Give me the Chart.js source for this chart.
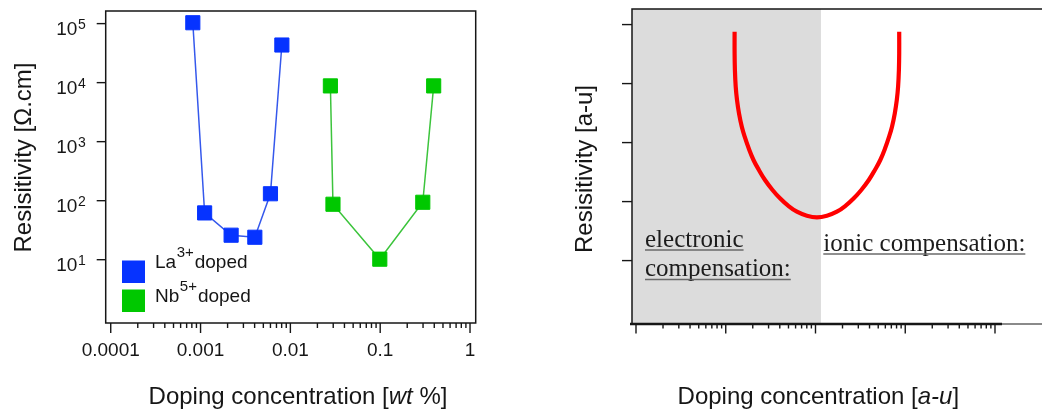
<!DOCTYPE html>
<html><head><meta charset="utf-8">
<script src="https://cdn.jsdelivr.net/npm/chart.js@4"></script>
<style>
html,body{margin:0;padding:0;background:#fff;}
#wrap{position:relative;width:1042px;height:412px;overflow:hidden;background:#fff;}
#left{position:absolute;left:0;top:0;width:520px;height:412px;}
#right{position:absolute;left:520px;top:0;width:522px;height:412px;}
</style></head><body>
<div id="wrap">
<canvas id="left" width="520" height="412"></canvas>
<canvas id="right" width="522" height="412"></canvas>
</div>
<script>
// ---------- data ----------
// Left panel: measured resistivity vs. doping concentration
const laConc = [0.00082, 0.00111, 0.00219, 0.00402, 0.0060, 0.00804];
const laRes  = [103500, 62, 26, 24, 131, 43400];
const nbConc = [0.0279, 0.0298, 0.099, 0.298, 0.394];
const nbRes  = [8800, 87, 10.2, 94, 8800];
const leftXTicks = [0.0001, 0.001, 0.01, 0.1, 1];
const leftYExps  = [1, 2, 3, 4, 5];
const legendNames = [["La", "3+", "doped"], ["Nb", "5+", "doped"]];

// Right panel: schematic U-shaped resistivity curve (arbitrary units)
const curveX = [12.55, 12.55, 12.65, 12.91, 13.35, 14.05, 15.10, 16.26, 18.02, 20.38,
                23.41, 27.37, 33.19, 40.22, 49.52, 62.05, 80.21, 103.65,
                133.97, 173.15, 217.0, 267.2, 323.8, 392.6, 459.0, 527.2, 596.5,
                660.9, 711.9, 764.9, 805.2, 832.5, 849.8, 856.4, 856.4];
const curveY = [4.880, 4.514, 4.231, 3.947, 3.722, 3.497, 3.269, 3.100, 2.903, 2.705,
                2.536, 2.366, 2.197, 2.056, 1.931, 1.829, 1.761, 1.734,
                1.761, 1.829, 1.931, 2.056, 2.197, 2.366, 2.536, 2.705, 2.903,
                3.100, 3.269, 3.497, 3.722, 3.947, 4.231, 4.514, 4.880];
const rightXTicks = [1, 10, 100, 1000, 10000];
const rightYTicks = [1, 2, 3, 4, 5];
const electronicLimit = 115;   // boundary of the shaded "electronic compensation" region
const regionLabels = ["electronic", "compensation:", "ionic compensation:"];

// ---------- styling ----------
const SANS = '"Liberation Sans", Arial, sans-serif';
const SERIF = '"Liberation Serif", "Times New Roman", serif';
const INK = '#161616';
const BLUE = '#0633ff', BLUE_LINE = '#3558ec';
const GREEN = '#00c800', GREEN_LINE = '#3cc43c';

function minorTicks(lo, hi) {
  const out = [];
  for (let d = lo; d < hi; d++) for (let m = 1; m <= 9; m++) out.push({v: m * Math.pow(10, d), major: m === 1});
  out.push({v: Math.pow(10, hi), major: true});
  return out;
}
function drawRuns(ctx, runs, x, baseline, center) {
  let total = 0;
  runs.forEach(r => { ctx.font = r.font; r.w = ctx.measureText(r.text).width; total += r.w + (r.gap || 0); });
  let cx = center ? x - total / 2 : x;
  ctx.textAlign = 'left'; ctx.textBaseline = 'alphabetic';
  runs.forEach(r => { ctx.font = r.font; ctx.fillText(r.text, cx, baseline + (r.dy || 0)); cx += r.w + (r.gap || 0); });
}

// ---------- left chart ----------
const leftDeco = {
  id: 'leftDeco',
  afterDraw(chart) {
    const ctx = chart.ctx, a = chart.chartArea, xs = chart.scales.x, ys = chart.scales.y;
    ctx.save();
    ctx.strokeStyle = INK; ctx.lineWidth = 1.5;
    ctx.strokeRect(a.left, a.top, a.right - a.left, a.bottom - a.top);
    // x ticks
    ctx.lineWidth = 1.4;
    minorTicks(-4, 0).forEach(t => {
      const px = xs.getPixelForValue(t.v);
      ctx.beginPath(); ctx.moveTo(px, a.bottom); ctx.lineTo(px, a.bottom + (t.major ? 10 : 5)); ctx.stroke();
    });
    // y ticks + labels
    ctx.fillStyle = INK;
    leftYExps.forEach(e => {
      const py = ys.getPixelForValue(Math.pow(10, e));
      ctx.beginPath(); ctx.moveTo(a.left - 9, py); ctx.lineTo(a.left, py); ctx.stroke();
      ctx.font = '14px ' + SANS;
      const sw = ctx.measureText(String(e)).width;
      ctx.font = '19px ' + SANS;
      const bw = ctx.measureText('10').width;
      const right = a.left - 20;
      ctx.textAlign = 'left'; ctx.textBaseline = 'alphabetic';
      ctx.fillText('10', right - sw - 0.5 - bw, py + 11);
      ctx.font = '14px ' + SANS;
      ctx.fillText(String(e), right - sw, py + 5.5);
    });
    // axis titles
    drawRuns(ctx, [
      {text: 'Doping concentration [', font: '24px ' + SANS},
      {text: 'wt', font: 'italic 24px ' + SANS},
      {text: ' %]', font: '24px ' + SANS}], 298, 404, true);
    ctx.save();
    ctx.translate(22, 157.5); ctx.rotate(-Math.PI / 2);
    drawRuns(ctx, [{text: 'Resisitivity [Ω.cm]', font: '24px ' + SANS}], 0, 8.5, true);
    ctx.restore();
    // legend
    const rows = [{c: BLUE, y: 260.5, base: 268}, {c: GREEN, y: 289.5, base: 302}];
    rows.forEach((r, i) => {
      ctx.fillStyle = r.c;
      ctx.fillRect(122, r.y, 23, 22.5);
      ctx.fillStyle = INK;
      const n = legendNames[i];
      drawRuns(ctx, [
        {text: n[0], font: '19px ' + SANS, gap: 0.5},
        {text: n[1], font: '15px ' + SANS, dy: -11.5, gap: 1},
        {text: n[2], font: '19px ' + SANS}], 155, r.base, false);
    });
    ctx.restore();
  }
};

new Chart(document.getElementById('left'), {
  type: 'line',
  data: {
    datasets: [
      {label: 'La3+ doped', data: laConc.map((x, i) => ({x, y: laRes[i]})),
       borderColor: BLUE_LINE, borderWidth: 1.5, pointStyle: 'rect', pointRadius: 10, pointBorderWidth: 1,
       pointBackgroundColor: BLUE, pointBorderColor: BLUE, tension: 0},
      {label: 'Nb5+ doped', data: nbConc.map((x, i) => ({x, y: nbRes[i]})),
       borderColor: GREEN_LINE, borderWidth: 1.5, pointStyle: 'rect', pointRadius: 10, pointBorderWidth: 1,
       pointBackgroundColor: GREEN, pointBorderColor: GREEN, tension: 0}
    ]
  },
  options: {
    responsive: false, animation: false, devicePixelRatio: 1,
    layout: {padding: {left: 0, right: 44.3, top: 9, bottom: 0}},
    plugins: {legend: {display: false}, tooltip: {enabled: false}},
    scales: {
      x: {type: 'logarithmic', bounds: 'data', min: 8.79e-5, max: 1.157,
          afterBuildTicks: s => { s.ticks = leftXTicks.map(v => ({value: v})); },
          afterFit: s => { s.height = 89; },
          grid: {display: false, drawTicks: false}, border: {display: false},
          ticks: {font: {family: SANS, size: 19}, color: INK, padding: 16, maxRotation: 0, autoSkip: false,
                  callback: v => String(v)}},
      y: {type: 'logarithmic', bounds: 'data', min: 0.846, max: 163600,
          afterFit: s => { s.width = 105.7; },
          ticks: {display: false}, grid: {display: false}, border: {display: false}}
    }
  },
  plugins: [leftDeco]
});

// ---------- right chart ----------
const rightDeco = {
  id: 'rightDeco',
  beforeDatasetsDraw(chart) {
    const ctx = chart.ctx, a = chart.chartArea, xs = chart.scales.x;
    ctx.save();
    ctx.fillStyle = '#dcdcdc';
    const bx = xs.getPixelForValue(electronicLimit);
    ctx.fillRect(a.left, a.top, bx - a.left, a.bottom - a.top);
    ctx.restore();
  },
  afterDraw(chart) {
    const ctx = chart.ctx, a = chart.chartArea, xs = chart.scales.x, ys = chart.scales.y;
    ctx.save();
    ctx.strokeStyle = INK; ctx.lineWidth = 1.5;
    ctx.beginPath(); ctx.moveTo(a.left, a.bottom); ctx.lineTo(a.left, a.top); ctx.lineTo(a.right, a.top); ctx.stroke();
    // bottom axis
    const lastMajor = xs.getPixelForValue(rightXTicks[rightXTicks.length - 1]);
    ctx.lineWidth = 2.6;
    ctx.beginPath(); ctx.moveTo(a.left - 2, a.bottom); ctx.lineTo(lastMajor + 7, a.bottom); ctx.stroke();
    ctx.lineWidth = 1.2;
    ctx.beginPath(); ctx.moveTo(lastMajor + 7, a.bottom); ctx.lineTo(a.right, a.bottom); ctx.stroke();
    ctx.lineWidth = 1.4;
    minorTicks(0, 4).forEach(t => {
      const px = xs.getPixelForValue(t.v);
      ctx.beginPath(); ctx.moveTo(px, a.bottom); ctx.lineTo(px, a.bottom + (t.major ? 9.5 : 4.5)); ctx.stroke();
    });
    rightYTicks.forEach(v => {
      const py = ys.getPixelForValue(v);
      ctx.beginPath(); ctx.moveTo(a.left - 10, py); ctx.lineTo(a.left, py); ctx.stroke();
    });
    // region labels
    const lab = [
      {t: regionLabels[0], x: 125, y: 246.5},
      {t: regionLabels[1], x: 125, y: 276},
      {t: regionLabels[2], x: 303.3, y: 250.5}];
    ctx.font = '25px ' + SERIF; ctx.textAlign = 'left'; ctx.textBaseline = 'alphabetic';
    lab.forEach(l => {
      ctx.fillStyle = '#1c1c1c';
      ctx.fillText(l.t, l.x, l.y);
      const w = ctx.measureText(l.t).width;
      ctx.strokeStyle = '#6a6a6a'; ctx.lineWidth = 1.5;
      ctx.beginPath(); ctx.moveTo(l.x, l.y + 3.5); ctx.lineTo(l.x + w, l.y + 3.5); ctx.stroke();
    });
    // titles
    ctx.fillStyle = INK;
    drawRuns(ctx, [
      {text: 'Doping concentration [', font: '24px ' + SANS},
      {text: 'a-u', font: 'italic 24px ' + SANS},
      {text: ']', font: '24px ' + SANS}], 298.3, 404, true);
    ctx.save();
    ctx.translate(63, 169); ctx.rotate(-Math.PI / 2);
    drawRuns(ctx, [{text: 'Resisitivity [a-u]', font: '24px ' + SANS}], 0, 8.5, true);
    ctx.restore();
    ctx.restore();
  }
};

new Chart(document.getElementById('right'), {
  type: 'line',
  data: {
    datasets: [{label: 'Resistivity', data: curveX.map((x, i) => ({x, y: curveY[i]})),
      borderColor: '#ff0000', borderWidth: 4.2, pointRadius: 0, tension: 0.4, fill: false,
      borderCapStyle: 'butt', borderJoinStyle: 'round'}]
  },
  options: {
    responsive: false, animation: false, devicePixelRatio: 1,
    layout: {padding: {left: 0, right: 0, top: 9, bottom: 0}},
    plugins: {legend: {display: false}, tooltip: {enabled: false}},
    scales: {
      x: {type: 'logarithmic', bounds: 'data', min: 0.9025, max: 33400,
          afterBuildTicks: s => { s.ticks = rightXTicks.map(v => ({value: v})); },
          afterFit: s => { s.height = 88; },
          ticks: {display: false}, grid: {display: false, drawTicks: false}, border: {display: false}},
      y: {type: 'linear', bounds: 'data', min: -0.0746, max: 5.264,
          afterBuildTicks: s => { s.ticks = rightYTicks.map(v => ({value: v})); },
          afterFit: s => { s.width = 112; },
          ticks: {display: false}, grid: {display: false}, border: {display: false}}
    }
  },
  plugins: [rightDeco]
});
</script>
</body></html>
